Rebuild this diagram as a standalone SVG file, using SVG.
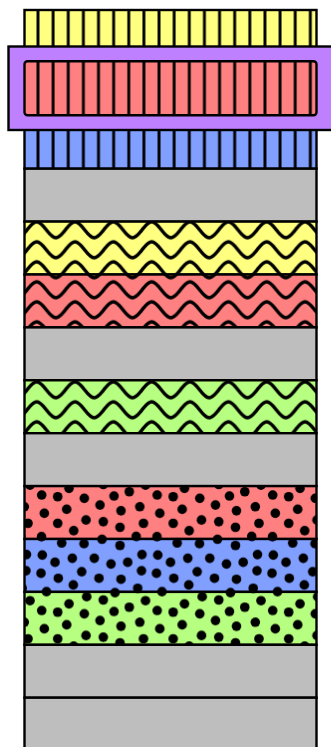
<svg xmlns="http://www.w3.org/2000/svg" width="331" height="747" viewBox="0 0 331 747">
<style>
.band{stroke:#000;stroke-width:2.4}
.ov{stroke:none}
.gray{fill:#bebebe}
.yellow{fill:#ffff80}
.red{fill:#ff8080}
.blue{fill:#809fff}
.green{fill:#b7ff80}
.purple{fill:#bf80ff}
.d circle{r:4.8px}
</style>
<defs>
<pattern id="stripes" patternUnits="userSpaceOnUse" x="30.435" y="0" width="15.13" height="10">
<rect x="6.115" y="-1" width="2.9" height="12" fill="#000"/>
</pattern>
<pattern id="waves" patternUnits="userSpaceOnUse" x="27.12" y="219.8" width="38.33" height="20">
<path d="M-19.165,10 C-11.031,20.667 -8.134,20.667 0,10 C8.134,-0.667 11.031,-0.667 19.165,10 C27.299,20.667 30.196,20.667 38.33,10 C46.464,-0.667 49.361,-0.667 57.495,10" fill="none" stroke="#000" stroke-width="3.4"/>
</pattern>
<pattern id="dots" patternUnits="userSpaceOnUse" x="24" y="484" width="115.5" height="115.5">
<g class="d" fill="#000">
<circle cx="17.7" cy="11" r="4.8"/><circle cx="33.7" cy="12.7" r="4.8"/><circle cx="45" cy="4.3" r="4.8"/><circle cx="60.3" cy="14.3" r="4.8"/><circle cx="90" cy="12" r="4.8"/><circle cx="105.3" cy="7.7" r="4.8"/><circle cx="6" cy="1.2" r="4.8"/><circle cx="79.3" cy="0.5" r="4.8"/>
<circle cx="0.3" cy="22.7" r="4.8"/><circle cx="20.3" cy="29.3" r="4.8"/><circle cx="42.7" cy="25.3" r="4.8"/><circle cx="76" cy="21" r="4.8"/><circle cx="97" cy="26.7" r="4.8"/>
<circle cx="4" cy="39.3" r="4.8"/><circle cx="33.7" cy="39.3" r="4.8"/><circle cx="62" cy="36" r="4.8"/><circle cx="79.3" cy="37.7" r="4.8"/><circle cx="96" cy="43.3" r="4.8"/><circle cx="49.7" cy="46.7" r="4.8"/>
<circle cx="17.5" cy="52.7" r="4.8"/><circle cx="37.7" cy="59" r="4.8"/><circle cx="60" cy="59.7" r="4.8"/><circle cx="78" cy="55.3" r="4.8"/><circle cx="96" cy="61.5" r="4.8"/><circle cx="112.2" cy="52.4" r="4.8"/>
<circle cx="2.5" cy="70.5" r="4.8"/><circle cx="18.3" cy="71" r="4.8"/><circle cx="31" cy="78.3" r="4.8"/><circle cx="48.3" cy="74.3" r="4.8"/><circle cx="70.3" cy="74.3" r="4.8"/><circle cx="87" cy="80" r="4.8"/><circle cx="103.7" cy="78.3" r="4.8"/>
<circle cx="2" cy="86.7" r="4.8"/><circle cx="17" cy="89.3" r="4.8"/><circle cx="34.3" cy="94.3" r="4.8"/><circle cx="57.7" cy="87.7" r="4.8"/><circle cx="75" cy="94.3" r="4.8"/><circle cx="97" cy="95.3" r="4.8"/>
<circle cx="22.5" cy="107.7" r="4.8"/><circle cx="49.3" cy="101" r="4.8"/><circle cx="91" cy="108.7" r="4.8"/><circle cx="113.7" cy="104.3" r="4.8"/>
<circle cx="62.7" cy="112.7" r="4.8"/>
<circle cx="115.8" cy="22.7" r="4.8"/><circle cx="119.5" cy="39.3" r="4.8"/><circle cx="118" cy="70.5" r="4.8"/><circle cx="117.5" cy="86.7" r="4.8"/>
<circle cx="-3.3" cy="52.4" r="4.8"/><circle cx="-1.8" cy="104.3" r="4.8"/>
<circle cx="45" cy="119.8" r="4.8"/><circle cx="6" cy="116.7" r="4.8"/><circle cx="79.3" cy="116" r="4.8"/>
<circle cx="62.7" cy="-2.8" r="4.8"/><circle cx="121.5" cy="1.2" r="4.8"/><circle cx="121.5" cy="116.7" r="4.8"/><circle cx="22.5" cy="-7.8" r="4.8"/><circle cx="91" cy="-6.8" r="4.8"/><circle cx="-1.8" cy="-11.2" r="4.8"/>
</g>
</pattern>
</defs>

<g id="band-01-yellow-stripes">
<rect class="yellow" x="24.5" y="10" width="292" height="52.9"/>
<rect class="ov" x="24.5" y="10" width="292" height="52.9" fill="url(#stripes)"/>
<rect class="band" x="24.5" y="10" width="292" height="52.9" fill="none"/>
</g>
<g id="band-03-blue-stripes">
<rect class="blue" x="24.5" y="115.8" width="292" height="52.9"/>
<rect class="ov" x="24.5" y="115.8" width="292" height="52.9" fill="url(#stripes)"/>
<rect class="band" x="24.5" y="115.8" width="292" height="52.9" fill="none"/>
</g>
<g id="highlight-box">
<rect class="purple band" x="8.5" y="46.5" width="324" height="83.5"/>
</g>
<g id="band-02-red-stripes">
<rect class="red" x="24.5" y="61.3" width="292" height="54" rx="3"/>
<rect class="ov" x="24.5" y="61.3" width="292" height="54" rx="3" fill="url(#stripes)"/>
<rect class="band" x="24.5" y="61.3" width="292" height="54" rx="3" fill="none"/>
</g>
<g id="band-04-gray">
<rect class="gray band" x="24.5" y="168.7" width="292" height="52.9"/>
</g>
<g id="band-05-yellow-waves">
<rect class="yellow" x="24.5" y="221.6" width="292" height="52.9"/>
<rect class="ov" x="24.5" y="221.6" width="292" height="52.9" fill="url(#waves)"/>
<rect class="band" x="24.5" y="221.6" width="292" height="52.9" fill="none"/>
</g>
<g id="band-06-red-waves">
<rect class="red" x="24.5" y="274.5" width="292" height="52.9"/>
<rect class="ov" x="24.5" y="274.5" width="292" height="52.9" fill="url(#waves)"/>
<rect class="band" x="24.5" y="274.5" width="292" height="52.9" fill="none"/>
</g>
<g id="band-07-gray">
<rect class="gray band" x="24.5" y="327.4" width="292" height="52.9"/>
</g>
<g id="band-08-green-waves">
<rect class="green" x="24.5" y="380.3" width="292" height="52.9"/>
<rect class="ov" x="24.5" y="380.3" width="292" height="52.9" fill="url(#waves)"/>
<rect class="band" x="24.5" y="380.3" width="292" height="52.9" fill="none"/>
</g>
<g id="band-09-gray">
<rect class="gray band" x="24.5" y="433.2" width="292" height="52.9"/>
</g>
<g id="band-10-red-dots">
<rect class="red" x="24.5" y="486.1" width="292" height="52.9"/>
<rect class="ov" x="24.5" y="486.1" width="292" height="52.9" fill="url(#dots)"/>
<rect class="band" x="24.5" y="486.1" width="292" height="52.9" fill="none"/>
</g>
<g id="band-11-blue-dots">
<rect class="blue" x="24.5" y="539" width="292" height="52.9"/>
<rect class="ov" x="24.5" y="539" width="292" height="52.9" fill="url(#dots)"/>
<rect class="band" x="24.5" y="539" width="292" height="52.9" fill="none"/>
</g>
<g id="band-12-green-dots">
<rect class="green" x="24.5" y="591.9" width="292" height="52.9"/>
<rect class="ov" x="24.5" y="591.9" width="292" height="52.9" fill="url(#dots)"/>
<rect class="band" x="24.5" y="591.9" width="292" height="52.9" fill="none"/>
</g>
<g id="band-13-gray">
<rect class="gray band" x="24.5" y="644.8" width="292" height="52.9"/>
</g>
<g id="band-14-gray">
<rect class="gray band" x="24.5" y="697.7" width="292" height="52.9"/>
</g>
<g id="connectors"></g>
</svg>
